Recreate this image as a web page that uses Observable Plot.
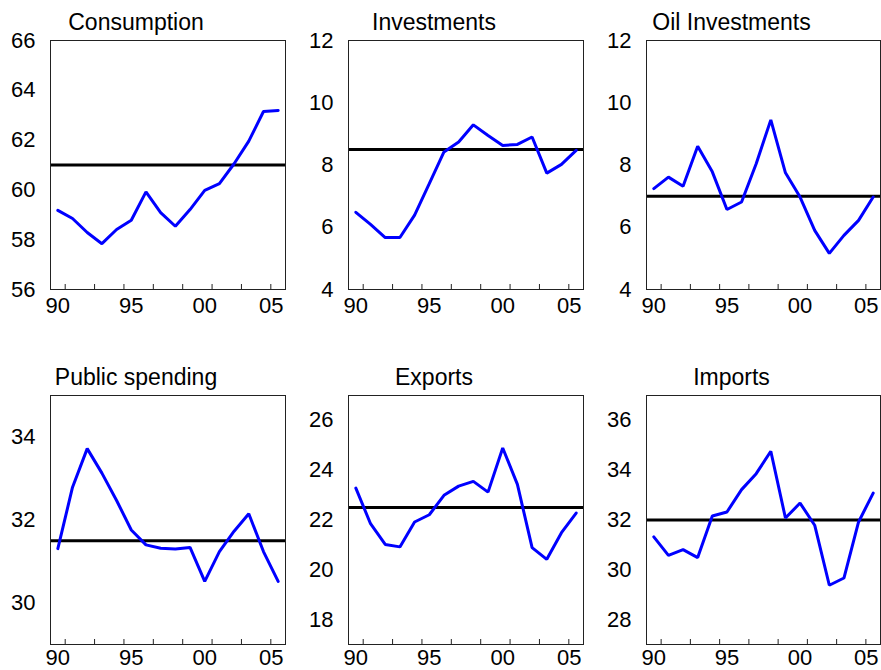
<!DOCTYPE html>
<html>
<head>
<meta charset="utf-8">
<script src="https://cdn.jsdelivr.net/npm/d3@7"></script>
<script src="https://cdn.jsdelivr.net/npm/@observablehq/plot@0.6"></script>
<style>
  html, body { margin: 0; padding: 0; background: #fff; overflow: hidden; }
  #chart { position: relative; width: 881px; height: 670px; background: #fff; }
  #chart > svg { position: absolute; }
</style>
</head>
<body>
<div id="chart"></div>
<script>
// ---- data ----
const years = [1990, 1991, 1992, 1993, 1994, 1995, 1996, 1997, 1998, 1999, 2000, 2001, 2002, 2003, 2004, 2005];

const consumption    = [59.18, 58.85, 58.29, 57.84, 58.41, 58.78, 59.92, 59.09, 58.54, 59.21, 59.98, 60.25, 61.05, 61.96, 63.15, 63.19];
const investments    = [6.48, 6.09, 5.67, 5.67, 6.39, 7.40, 8.42, 8.74, 9.29, 8.95, 8.63, 8.66, 8.90, 7.74, 8.02, 8.47];
const oilInvestments = [7.24, 7.61, 7.32, 8.60, 7.78, 6.57, 6.81, 8.04, 9.45, 7.75, 6.97, 5.90, 5.16, 5.74, 6.22, 6.97];
const publicSpending = [31.31, 32.79, 33.72, 33.13, 32.47, 31.76, 31.40, 31.32, 31.30, 31.34, 30.52, 31.24, 31.73, 32.15, 31.24, 30.52];
const exportsShare   = [23.28, 21.85, 21.02, 20.92, 21.92, 22.21, 22.99, 23.36, 23.55, 23.12, 24.89, 23.43, 20.89, 20.42, 21.49, 22.28];
const importsShare   = [31.32, 30.58, 30.81, 30.49, 32.16, 32.32, 33.22, 33.86, 34.76, 32.08, 32.68, 31.79, 29.38, 29.67, 31.92, 33.08];

const titles    = ["Consumption", "Investments", "Oil Investments", "Public spending", "Exports", "Imports"];
const series    = [consumption, investments, oilInvestments, publicSpending, exportsShare, importsShare];
const refLevels = [61, 8.5, 7, 31.5, 22.5, 32];
const yDomains  = [[56, 66], [4, 12], [4, 12], [29, 35], [17, 27], [27, 37]];
const yTicks    = [
  [56, 58, 60, 62, 64, 66],
  [4, 6, 8, 10, 12],
  [4, 6, 8, 10, 12],
  [30, 32, 34],
  [18, 20, 22, 24, 26],
  [28, 30, 32, 34, 36]
];
const xDomain      = [1989.5, 2005.5];
const xLabelYears  = [1990, 1995, 2000, 2005];
const xTickLabels  = ["90", "95", "00", "05"];
const xMinorTicks  = [1990.5, 1992.5, 1994.5, 1996.5, 1998.5, 2000.5, 2002.5, 2004.5];

// ---- layout ----
const colLeft  = [0, 298, 596];
const colWidth = [298, 298, 285];
const colMR    = [13, 13, 1];
const rowTop   = [0, 355];
const rowH     = [330, 315];
const rowMB    = [41, 26];
const rowPad   = [8, 5];
const MT = 40, ML = 50;

const fmtX = d => xTickLabels[xLabelYears.indexOf(d)];
const fmtY = d => String(d);
const chart = document.getElementById("chart");

series.forEach((vals, i) => {
  const row = Math.floor(i / 3), col = i % 3;
  const data = years.map((y, k) => ({year: y, value: vals[k]}));
  const frameH = rowH[row] - MT - rowMB[row];
  const svg = Plot.plot({
    width: colWidth[col],
    height: rowH[row],
    marginLeft: ML,
    marginRight: colMR[col],
    marginTop: MT,
    marginBottom: rowMB[row],
    x: {domain: xDomain},
    y: {domain: yDomains[i]},
    style: {fontFamily: "'Liberation Sans', Arial, Helvetica, sans-serif", fontSize: "22px", color: "#000", background: "transparent", overflow: "visible"},
    marks: [
      Plot.ruleY([refLevels[i]], {stroke: "#000", strokeWidth: 3}),
      Plot.line(data, {x: "year", y: "value", stroke: "#0000ff", strokeWidth: 3, strokeLinejoin: "miter"}),
      Plot.frame({stroke: "#222", strokeWidth: 1}),
      Plot.ruleX(xMinorTicks, {x: d => d, insetTop: frameH - 5, stroke: "#222"}),
      Plot.axisY({ticks: yTicks[i], tickSize: 0, tickPadding: 15, tickFormat: fmtY, label: null, fontSize: 22}),
      Plot.axisX({ticks: xLabelYears.slice(0, 3), tickSize: 0, tickPadding: rowPad[row], tickFormat: fmtX, label: null, fontSize: 22}),
      Plot.axisX({ticks: xLabelYears.slice(3), tickSize: 0, tickPadding: rowPad[row], tickFormat: fmtX, label: null, fontSize: 22, dx: -7}),
      Plot.text([titles[i]], {text: d => d, frameAnchor: "top", dx: -32, dy: -10.5, lineAnchor: "bottom", fontSize: 23, fill: "#000"})
    ]
  });
  svg.style.left = colLeft[col] + "px";
  svg.style.top = rowTop[row] + "px";
  chart.appendChild(svg);
});
</script>
</body>
</html>
